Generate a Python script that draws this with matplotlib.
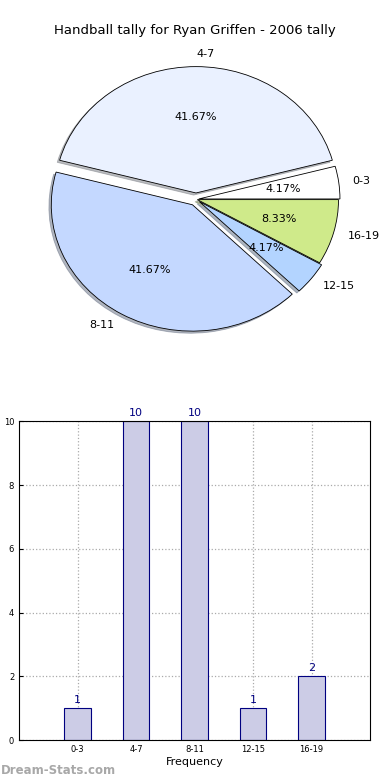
"""Handball tally chart: pie of frequency bins plus a bar chart of the same tally."""

import matplotlib

matplotlib.use("Agg")
import matplotlib.pyplot as plt
import numpy as np

# data
categories = ["0-3", "4-7", "8-11", "12-15", "16-19"]
tally = [1, 10, 10, 1, 2]
pie_colors = ["#ffffff", "#eaf1ff", "#c4d8ff", "#b3d4ff", "#cfea8a"]
explode = [0.02, 0.05, 0.05, 0.03, 0.01]

title = "Handball tally for Ryan Griffen - 2006 tally"

fig = plt.figure(figsize=(3.9, 7.8), dpi=100)

# pie (elliptical, like the old renderer)
ax_pie = fig.add_axes([0.05, 0.542, 0.905, 0.405])
wedges, texts, autotexts = ax_pie.pie(
    tally,
    labels=categories,
    colors=pie_colors,
    explode=explode,
    autopct="%.2f%%",
    shadow={"ox": -0.012, "oy": -0.012, "shade": 0.5},
    startangle=0,
    wedgeprops={"edgecolor": "black", "linewidth": 0.6},
    textprops={"fontsize": 8},
)
ax_pie.set_aspect("auto")
ax_pie.set_xlim(-1.25, 1.25)
ax_pie.set_ylim(-1.25, 1.25)
fig.text(0.5, 0.961, title, ha="center", va="center", fontsize=9.5)

# bars
ax_bar = fig.add_axes([0.049, 0.051, 0.9, 0.409])
x = np.arange(len(categories))
ax_bar.bar(x, tally, width=0.45, color="#ccccE6", edgecolor="#000080", linewidth=0.8, zorder=2)
for xi, val in zip(x, tally):
    ax_bar.text(xi, val + 0.1, str(val), ha="center", va="bottom", fontsize=8, color="#000080")

ax_bar.set_xlim(-1, 5)
ax_bar.set_ylim(0, 10)
ax_bar.set_xticks(x)
ax_bar.set_xticklabels(categories, fontsize=6)
ax_bar.set_yticks(np.arange(0, 11, 2))
ax_bar.tick_params(axis="y", labelsize=6, direction="in", length=3)
ax_bar.tick_params(axis="x", direction="in", length=3)
ax_bar.grid(True, linestyle=":", color="#aaaaaa", linewidth=0.9, zorder=0)
ax_bar.set_axisbelow(True)
ax_bar.set_xlabel("Frequency", fontsize=8, labelpad=2)
ax_bar.set_ylabel("Number of Games", fontsize=7, labelpad=4)

fig.text(0.002, 0.012, "Dream-Stats.com", ha="left", va="center", fontsize=8.5,
         color="#a8a8a8", fontweight="bold")

fig.savefig("out.png", dpi=100)
